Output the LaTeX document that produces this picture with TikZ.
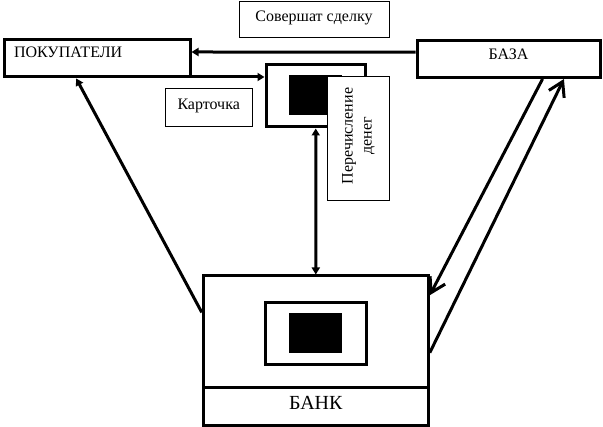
\documentclass[tikz,border=0pt]{standalone}
\usepackage{fontspec}
\setmainfont{Liberation Serif}
\usetikzlibrary{arrows.meta,calc}
\begin{document}
\begin{tikzpicture}[x=1pt,y=-1pt,
  box/.style={draw,line width=3pt,fill=white,inner sep=0pt},
  tbox/.style={draw,line width=0.8pt,fill=white,inner sep=0pt},
  blk/.style={fill=black,inner sep=0pt},
  lbl/.style={font=\fontsize{16pt}{19pt}\selectfont},
  arr/.style={line width=3pt,-{Triangle[length=7pt,width=8pt]}},
  dblarr/.style={line width=3pt,{Triangle[length=7pt,width=8pt]}-{Triangle[length=7pt,width=8pt]}},
  barb/.style={line width=3pt,-{Straight Barb[length=14pt,width=17pt]}}]
\useasboundingbox (0,0) rectangle (603,427);
% top nodes
\node[tbox,lbl,minimum width=150pt,minimum height=36pt,text height=11pt,text depth=5.6pt] (sov) at (314,19) {Совершат сделку};
\node[box,lbl,minimum width=186pt,minimum height=37pt,text width=166pt,inner xsep=10pt,align=left,text height=11pt,text depth=13.4pt] (pok) at (97,58.5) {ПОКУПАТЕЛИ};
\node[box,lbl,minimum width=183pt,minimum height=36.5pt,text height=11pt,text depth=9.5pt] (baza) at (508.5,59.25) {БАЗА};
\node[tbox,lbl,minimum width=87pt,minimum height=38pt,text height=11pt,text depth=5pt] (kart) at (208.7,107) {Карточка};
% card
\node[box,minimum width=99.5pt,minimum height=62.5pt] (card) at (315.75,95.75) {};
\node[blk,minimum width=53pt,minimum height=40pt] (cardblk) at (315.5,95) {};
\node[tbox,lbl,minimum width=62pt,minimum height=124.7pt] (perech) at (358.3,138.3) {};
\node[lbl,rotate=90,align=center,inner sep=0pt] (perechtxt) at (358.5,136) {Перечисление\\денег};
% bank
\node[box,minimum width=225pt,minimum height=112pt] (banktop) at (315.8,332) {};
\node[box,minimum width=225pt,minimum height=38pt,font=\fontsize{20pt}{24pt}\selectfont,text height=13.3pt,text depth=7.3pt] (bankbot) at (315.8,407) {БАНК};
\node[box,minimum width=101pt,minimum height=62pt] (inner) at (315.5,333.3) {};
\node[blk,minimum width=53pt,minimum height=40.5pt] (innerblk) at (315.6,333) {};
% connectors
\draw[arr] ($(baza.west)+(0,-7.2)$) -- ($(pok.east)+(0,-6.5)$);
\draw[arr] ($(pok.south east)+(0,-1.5)$) -- ($(pok.south east -| card.west)+(0,-1.5)$);
\draw[dblarr] (card.south) -- (banktop.north);
\draw[arr] ($(banktop.north west)!0.33!(banktop.south west)$) -- ($(pok.south west)!0.39!(pok.south east)$);
\draw[barb] ($(baza.south west)!0.683!(baza.south east)$) -- ($(banktop.north east)!0.18!(banktop.south east)$);
\draw[barb] ($(banktop.north east)!0.68!(banktop.south east)$) -- ($(baza.south west)!0.798!(baza.south east)$);
\end{tikzpicture}
\end{document}
